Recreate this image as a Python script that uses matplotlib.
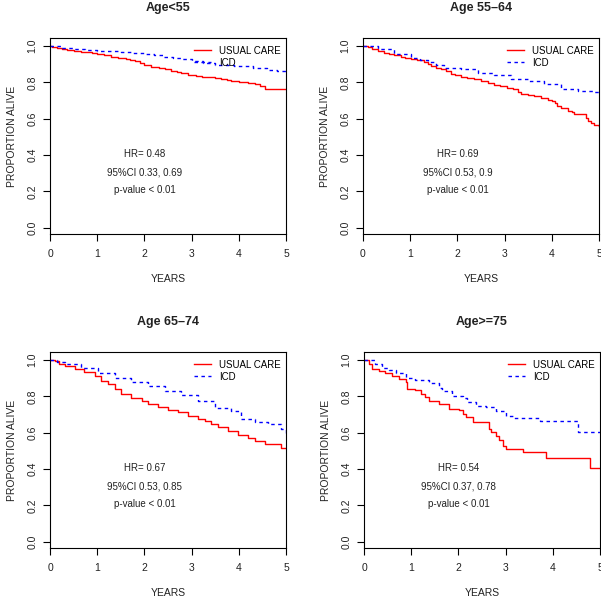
import numpy as np
import matplotlib
matplotlib.use('Agg')
from matplotlib import pyplot as plt

plt.rcParams['font.family'] = ['Liberation Sans', 'DejaVu Sans']

# survival curves (years, proportion alive)
uc1_t = [0, 0.05, 0.15, 0.25, 0.35, 0.5, 0.65, 0.8, 0.9, 1.0, 1.15, 1.3, 1.45, 1.6, 1.7, 1.8, 1.9, 2.0,
         2.15, 2.3, 2.43, 2.57, 2.7, 2.78, 2.92, 3.1, 3.21, 3.35, 3.49, 3.63, 3.75, 3.84, 4.0, 4.2, 4.35,
         4.45, 4.55, 5.0]
uc1_s = [1.0, 0.995, 0.99, 0.985, 0.978, 0.974, 0.969, 0.965, 0.96, 0.954, 0.948, 0.942, 0.936, 0.928,
         0.922, 0.915, 0.905, 0.893, 0.885, 0.877, 0.872, 0.863, 0.856, 0.85, 0.839, 0.835, 0.832, 0.828,
         0.823, 0.818, 0.812, 0.805, 0.8, 0.799, 0.79, 0.78, 0.765, 0.762]
icd1_t = [0, 0.25, 0.5, 0.75, 1.0, 1.25, 1.5, 1.75, 2.0, 2.2, 2.4, 2.6, 2.8, 3.0, 3.25, 3.5, 3.9, 4.3,
          4.6, 4.8, 5.0]
icd1_s = [1.0, 0.99, 0.985, 0.98, 0.975, 0.97, 0.965, 0.96, 0.955, 0.95, 0.94, 0.935, 0.93, 0.92, 0.905,
          0.895, 0.89, 0.88, 0.87, 0.86, 0.85]

uc2_t = [0, 0.1, 0.2, 0.31, 0.45, 0.55, 0.66, 0.8, 0.9, 1.02, 1.15, 1.3, 1.38, 1.44, 1.55, 1.65, 1.75,
         1.86, 1.95, 2.08, 2.2, 2.36, 2.5, 2.64, 2.78, 2.9, 3.06, 3.17, 3.28, 3.35, 3.5, 3.63, 3.78, 3.91,
         4.0, 4.06, 4.12, 4.2, 4.34, 4.42, 4.48, 4.69, 4.72, 4.76, 4.83, 4.9, 5.0]
uc2_s = [1.0, 0.992, 0.983, 0.973, 0.962, 0.955, 0.949, 0.94, 0.936, 0.93, 0.922, 0.912, 0.9, 0.89, 0.88,
         0.872, 0.86, 0.848, 0.84, 0.832, 0.826, 0.817, 0.81, 0.799, 0.788, 0.781, 0.771, 0.762, 0.747,
         0.734, 0.728, 0.722, 0.712, 0.703, 0.695, 0.685, 0.67, 0.66, 0.643, 0.634, 0.624, 0.624, 0.605,
         0.588, 0.575, 0.564, 0.562]
icd2_t = [0, 0.31, 0.66, 1.02, 1.2, 1.37, 1.55, 1.72, 2.08, 2.43, 2.78, 3.14, 3.49, 3.84, 4.2, 4.55,
          4.9, 5.0]
icd2_s = [1.0, 0.982, 0.954, 0.936, 0.925, 0.912, 0.895, 0.881, 0.872, 0.853, 0.839, 0.817, 0.808,
          0.789, 0.762, 0.753, 0.744, 0.734]

uc3_t = [0, 0.1, 0.2, 0.31, 0.52, 0.73, 0.95, 1.09, 1.23, 1.37, 1.51, 1.72, 1.94, 2.08, 2.29, 2.5,
         2.71, 2.92, 3.14, 3.28, 3.42, 3.56, 3.77, 3.98, 4.2, 4.34, 4.55, 4.83, 4.9, 5.0]
uc3_s = [1.0, 0.995, 0.98, 0.967, 0.949, 0.936, 0.912, 0.885, 0.866, 0.839, 0.812, 0.79, 0.775, 0.76,
         0.742, 0.725, 0.712, 0.694, 0.676, 0.665, 0.647, 0.632, 0.611, 0.588, 0.573, 0.555, 0.54, 0.537,
         0.518, 0.515]
icd3_t = [0, 0.15, 0.31, 0.66, 1.02, 1.37, 1.72, 2.08, 2.43, 2.78, 3.14, 3.49, 3.84, 4.05, 4.34, 4.62,
          4.9, 5.0]
icd3_s = [1.0, 0.99, 0.98, 0.954, 0.93, 0.903, 0.881, 0.857, 0.83, 0.808, 0.775, 0.738, 0.72, 0.674,
          0.656, 0.646, 0.619, 0.592]

uc4_t = [0, 0.1, 0.17, 0.31, 0.45, 0.6, 0.74, 0.88, 0.91, 1.09, 1.2, 1.3, 1.38, 1.59, 1.8, 2.01, 2.09,
         2.16, 2.3, 2.65, 2.69, 2.79, 2.87, 2.94, 3.01, 3.36, 3.86, 4.78, 5.0]
uc4_s = [1.0, 0.976, 0.95, 0.941, 0.927, 0.914, 0.896, 0.877, 0.841, 0.835, 0.813, 0.799, 0.777, 0.758,
         0.731, 0.722, 0.703, 0.685, 0.66, 0.62, 0.605, 0.584, 0.557, 0.529, 0.511, 0.491, 0.463, 0.405,
         0.405]
icd4_t = [0, 0.24, 0.38, 0.52, 0.67, 0.88, 1.09, 1.38, 1.59, 1.66, 1.87, 2.09, 2.19, 2.37, 2.58, 2.79,
          3.01, 3.15, 3.72, 4.53, 5.0]
icd4_s = [1.0, 0.976, 0.958, 0.943, 0.93, 0.903, 0.888, 0.875, 0.848, 0.83, 0.802, 0.793, 0.766, 0.747,
          0.742, 0.72, 0.692, 0.679, 0.665, 0.606, 0.606]

titles = ['Age<55', 'Age 55\u201364', 'Age 65\u201374', 'Age>=75']
hr_text = ['HR= 0.48', 'HR= 0.69', 'HR= 0.67', 'HR= 0.54']
ci_text = ['95%CI 0.33, 0.69', '95%CI 0.53, 0.9', '95%CI 0.53, 0.85', '95%CI 0.37, 0.78']
p_text = ['p-value < 0.01'] * 4

curves = [(uc1_t, uc1_s, icd1_t, icd1_s),
          (uc2_t, uc2_s, icd2_t, icd2_s),
          (uc3_t, uc3_s, icd3_t, icd3_s),
          (uc4_t, uc4_s, icd4_t, icd4_s)]

W, H = 601, 597
# axes boxes in pixels: left, top
boxes = [(50, 38), (363, 38), (50, 352), (364, 352)]
bw, bh = 236, 196

fig = plt.figure(figsize=[W / 100, H / 100], dpi=100)
txtc = '#222222'
for i, (l, t) in enumerate(boxes):
    ax = fig.add_axes([l / W, 1 - (t + bh) / H, bw / W, bh / H])
    ut, us, it, is_ = curves[i]
    ax.step(ut, us, where='post', color='red', lw=1.0, label='USUAL CARE')
    ax.step(it, is_, where='post', color='blue', lw=1.0, ls=(0, (2.5, 2.5)), label='ICD')
    ax.set_xlim(0, 5)
    ax.set_ylim(-0.035, 1.044)
    ax.set_xticks(np.arange(0, 6, 1))
    ax.set_yticks(np.arange(0, 1.01, 0.2))
    ax.set_yticklabels(['0.0', '0.2', '0.4', '0.6', '0.8', '1.0'], rotation=90, va='center')
    ax.tick_params(direction='out', length=5, width=0.8, labelsize=7.5, pad=4, colors='black', labelcolor=txtc)
    ax.tick_params(axis='x', pad=5.5)
    for sp in ax.spines.values():
        sp.set_linewidth(0.8)
    ax.set_xlabel('YEARS', fontsize=7.5, color=txtc)
    ax.xaxis.set_label_coords(0.5, -45 / bh)
    ax.xaxis.label.set_va('center')
    ax.set_ylabel('PROPORTION ALIVE', fontsize=7.5, color=txtc)
    ax.yaxis.set_label_coords(-38 / bw, 0.5)
    ax.yaxis.label.set_va('center')
    ax.text(0.5, 1 + 30 / bh, titles[i], transform=ax.transAxes, ha='center', va='center',
            fontsize=9, fontweight='bold', color=txtc)
    ax.text(2.0, 0.405, hr_text[i], ha='center', va='center', fontsize=7, color=txtc)
    ax.text(2.0, 0.305, ci_text[i], ha='center', va='center', fontsize=7, color=txtc)
    ax.text(2.0, 0.205, p_text[i], ha='center', va='center', fontsize=7, color=txtc)
    ax.legend(loc='upper right', bbox_to_anchor=(1.012, 1.0), frameon=False, fontsize=7,
              handlelength=1.75, handletextpad=0.9, labelspacing=0.2, borderaxespad=0.5,
              borderpad=0.3)

fig.savefig('out.png', dpi=100)
